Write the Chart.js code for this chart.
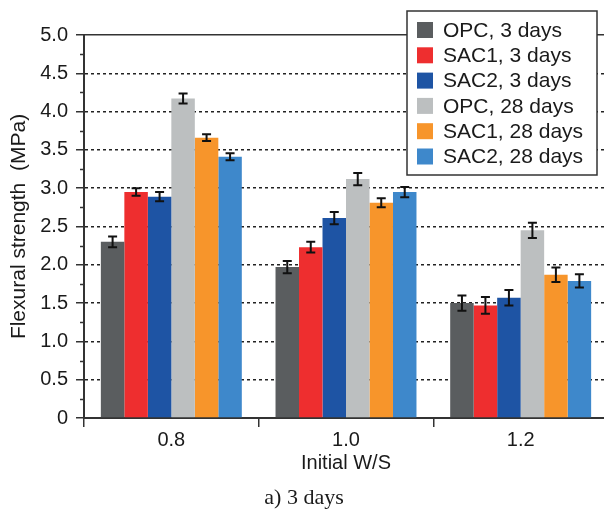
<!DOCTYPE html>
<html>
<head>
<meta charset="utf-8">
<title>Flexural strength</title>
<script src="https://cdn.jsdelivr.net/npm/chart.js@4.4.1/dist/chart.umd.min.js"></script>
<style>
    html, body { margin: 0; padding: 0; background: #fff; overflow: hidden; }
    #flexChart { display: block; }
</style>
</head>
<body>
<canvas id="flexChart" width="608" height="513"></canvas>
<script>
// Initial W/S ratios on the x axis
var wsLabels = ['0.8', '1.0', '1.2'];
var seriesLabels = ['OPC, 3 days', 'SAC1, 3 days', 'SAC2, 3 days', 'OPC, 28 days', 'SAC1, 28 days', 'SAC2, 28 days'];

// Flexural strength (MPa)
var opc3 = [2.30, 1.97, 1.50];
var sac1_3 = [2.95, 2.23, 1.47];
var sac2_3 = [2.89, 2.61, 1.57];
var opc28 = [4.17, 3.12, 2.45];
var sac1_28 = [3.66, 2.81, 1.87];
var sac2_28 = [3.41, 2.95, 1.79];

// Standard deviations (error bars)
var opc3Err = [0.07, 0.08, 0.10];
var sac1_3Err = [0.05, 0.07, 0.11];
var sac2_3Err = [0.06, 0.08, 0.10];
var opc28Err = [0.065, 0.08, 0.10];
var sac1_28Err = [0.045, 0.06, 0.095];
var sac2_28Err = [0.045, 0.067, 0.087];

var yMin = 0, yMax = 5, yStep = 0.5;

var barColors = ['#5a5d5f', '#ee2e2f', '#1e54a4', '#bcbfc0', '#f7952b', '#3e88cb'];
var SANS = '"Liberation Sans", Arial, sans-serif';
var SERIF = '"Liberation Serif", "Times New Roman", serif';
var TEXT = '#1a1a1a';
var LINE = '#333';

var seriesValues = [opc3, sac1_3, sac2_3, opc28, sac1_28, sac2_28];
var seriesErrors = [opc3Err, sac1_3Err, sac2_3Err, opc28Err, sac1_28Err, sac2_28Err];

var datasets = seriesValues.map(function (vals, i) {
    return {
        label: seriesLabels[i],
        data: vals,
        errors: seriesErrors[i],
        backgroundColor: barColors[i],
        borderWidth: 0,
        categoryPercentage: 0.807,
        barPercentage: 1.0
    };
});

// error bars on top of each bar
var errorBarPlugin = {
    id: 'errorBars',
    afterDatasetsDraw: function (chart) {
        var ctx = chart.ctx, y = chart.scales.y;
        ctx.save();
        ctx.strokeStyle = '#111';
        ctx.lineWidth = 2;
        chart.data.datasets.forEach(function (ds, di) {
            var meta = chart.getDatasetMeta(di);
            meta.data.forEach(function (bar, j) {
                var v = ds.data[j], e = ds.errors[j];
                var top = y.getPixelForValue(v + e), bot = y.getPixelForValue(v - e);
                var hw = 4.5;
                ctx.beginPath();
                ctx.moveTo(bar.x, top); ctx.lineTo(bar.x, bot);
                ctx.moveTo(bar.x - hw, top); ctx.lineTo(bar.x + hw, top);
                ctx.moveTo(bar.x - hw, bot); ctx.lineTo(bar.x + hw, bot);
                ctx.stroke();
            });
        });
        ctx.restore();
    }
};

// short minor ticks halfway between the labelled ones
var minorTickPlugin = {
    id: 'minorTicks',
    afterDraw: function (chart) {
        var ctx = chart.ctx, y = chart.scales.y, left = chart.chartArea.left;
        ctx.save();
        ctx.strokeStyle = LINE;
        ctx.lineWidth = 1.5;
        for (var i = 0; i < y.ticks.length - 1; i++) {
            var mid = (y.ticks[i].value + y.ticks[i + 1].value) / 2;
            var py = Math.round(y.getPixelForValue(mid)) + 0.5;
            ctx.beginPath();
            ctx.moveTo(left - 4, py); ctx.lineTo(left, py);
            ctx.stroke();
        }
        ctx.restore();
    }
};

// boxed legend in the upper right corner
var boxLegendPlugin = {
    id: 'boxLegend',
    afterDraw: function (chart) {
        var ctx = chart.ctx;
        var bx = 407, by = 11, bw = 190, bh = 164, row = 25.3;
        ctx.save();
        ctx.fillStyle = '#fff';
        ctx.fillRect(bx, by, bw, bh);
        ctx.strokeStyle = LINE;
        ctx.lineWidth = 1.5;
        ctx.strokeRect(bx, by, bw, bh);
        ctx.font = '21px ' + SANS;
        ctx.textBaseline = 'middle';
        ctx.textAlign = 'left';
        chart.data.datasets.forEach(function (ds, i) {
            var cy = by + 19 + i * row;
            ctx.fillStyle = ds.backgroundColor;
            ctx.fillRect(bx + 10, cy - 8, 16, 16);
            ctx.fillStyle = TEXT;
            ctx.fillText(ds.label, bx + 36, cy + 1);
        });
        ctx.restore();
    }
};

new Chart(document.getElementById('flexChart').getContext('2d'), {
    type: 'bar',
    data: { labels: wsLabels, datasets: datasets },
    plugins: [errorBarPlugin, minorTickPlugin, boxLegendPlugin],
    options: {
        responsive: false,
        animation: false,
        layout: { padding: { top: 35, left: 0, right: 0, bottom: 0 } },
        plugins: {
            legend: { display: false },
            tooltip: { enabled: false },
            title: {
                display: true,
                position: 'bottom',
                text: 'a) 3 days',
                color: TEXT,
                font: { family: SERIF, size: 22, weight: 'normal' },
                padding: { top: 4, bottom: 2 }
            }
        },
        scales: {
            x: {
                grid: { offset: true, drawOnChartArea: false, tickLength: 9, color: LINE, lineWidth: 1.5 },
                border: { color: LINE, width: 2 },
                ticks: { color: TEXT, font: { family: SANS, size: 20 }, padding: 1 },
                title: { display: true, text: 'Initial W/S', color: TEXT, font: { family: SANS, size: 20 }, padding: { top: 0, bottom: 5 } },
                afterFit: function (s) { s.height = 62.6; }
            },
            x2: {
                type: 'category',
                position: 'top',
                grid: { display: true, drawOnChartArea: false, drawTicks: false },
                border: { color: LINE, width: 1.5 },
                ticks: { display: false },
                afterFit: function (s) { s.height = 0; }
            },
            y: {
                min: yMin,
                max: yMax,
                ticks: {
                    stepSize: yStep,
                    color: TEXT,
                    font: { family: SANS, size: 20 },
                    padding: 8,
                    callback: function (v) { return v === 0 ? '0' : v.toFixed(1); }
                },
                grid: {
                    color: function (c) {
                        var v = c.tick ? c.tick.value : null;
                        return (v === yMin || v === yMax) ? 'rgba(0,0,0,0)' : '#222';
                    },
                    lineWidth: 1.5,
                    tickLength: 8,
                    tickColor: LINE,
                    tickWidth: 1.5,
                    tickBorderDash: []
                },
                border: { color: LINE, width: 2, dash: [3, 3] },
                title: { display: true, text: 'Flexural strength  (MPa)', color: TEXT, font: { family: SANS, size: 21 }, padding: { top: 7, bottom: 0 } },
                afterFit: function (s) { s.width = 84; }
            }
        }
    }
});
</script>
</body>
</html>
